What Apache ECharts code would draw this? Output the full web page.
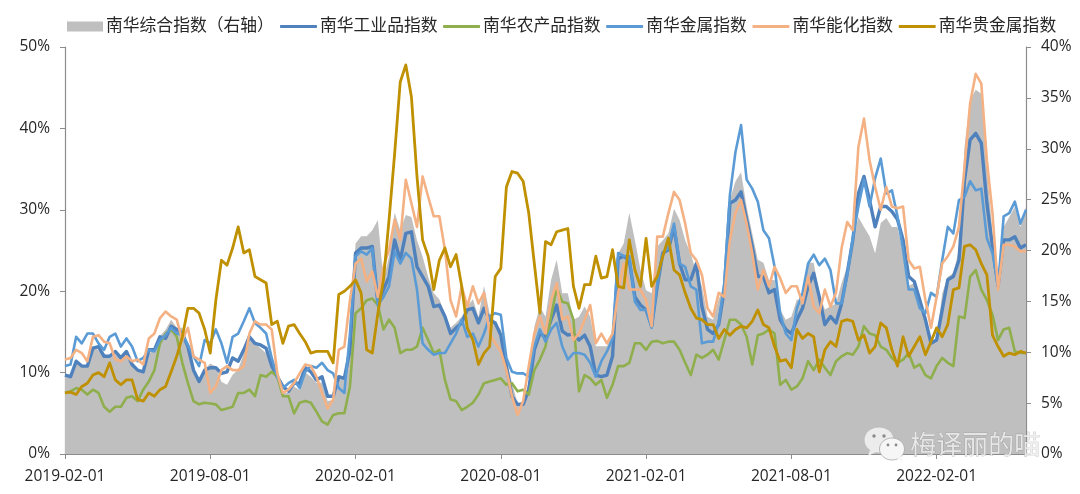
<!DOCTYPE html>
<html><head><meta charset="utf-8">
<style>html,body{margin:0;padding:0;background:#fff}#c{width:1080px;height:494px}</style>
<script src="https://cdn.jsdelivr.net/npm/echarts@6/dist/echarts.min.js"></script>
</head><body><div id="c"></div>
<script>
const tickLabels = ['2019-02-01','2019-08-01','2020-02-01','2020-08-01','2021-02-01','2021-08-01','2022-02-01'];
const composite = [7.6,7.8,9.1,8.6,8.8,10.6,10.2,9.9,9.4,9.8,9.4,9.9,8.8,8.3,8.1,9.9,10.2,11.6,12.2,13.2,12.4,12.4,10.6,8.3,7.0,8.3,8.9,8.6,7.1,6.8,7.8,8.3,9.9,11.2,10.9,10.4,9.9,8.3,7.3,6.0,6.0,6.6,6.3,8.0,7.6,7.0,7.0,5.2,5.3,7.6,7.5,11.9,
20.7,21.4,21.4,22.0,23.0,17.1,19.4,23.7,22.0,23.5,23.3,21.0,19.4,17.4,15.8,15.2,13.8,12.4,12.9,13.5,14.5,15.2,13.5,16.5,13.8,12.9,12.2,9.3,7.0,5.0,5.2,7.0,12.5,14.5,13.5,17.1,19.1,15.8,15.8,13.2,13.5,14.5,13.5,10.6,10.6,10.6,11.9,19.7,20.7,23.7,21.0,18.1,16.1,15.8,20.4,21.0,21.7,24.1,23.0,21.0,19.7,17.8,
16.5,13.5,13.2,15.2,16.5,25.0,26.8,27.7,24.3,21.7,19.1,18.8,17.1,17.1,14.2,13.2,13.5,15.2,14.8,18.8,18.8,15.8,14.2,14.5,14.8,16.8,18.4,21.0,23.3,22.3,21.4,19.7,22.7,23.2,22.3,22.3,19.7,16.5,16.8,15.2,13.5,11.2,11.2,15.8,17.4,17.8,20.1,30.2,34.8,35.8,35.4,28.2,21.7,16.5,22.3,23.3,24.3,22.3,24.3];
const industrial = [9.7,9.5,11.4,10.8,10.8,13.0,13.2,12.0,12.0,12.6,11.8,12.6,11.0,10.3,10.1,12.8,12.8,14.4,14.2,15.7,15.3,14.8,13.2,10.3,8.9,10.3,10.6,10.6,9.9,10.1,11.8,11.4,12.8,14.4,13.6,13.4,13.0,10.8,9.5,8.3,7.7,8.7,8.7,10.6,10.1,9.1,9.5,7.1,7.1,9.5,9.3,12.8,
24.7,25.3,25.3,25.5,18.5,20.2,21.8,26.3,23.8,27.1,27.3,23.0,21.8,20.6,18.1,18.3,16.9,14.8,15.5,16.1,17.7,17.9,16.1,17.9,16.5,16.1,14.6,10.8,7.1,6.1,6.1,7.9,12.8,14.8,14.4,16.5,18.3,15.1,14.6,14.8,14.0,14.6,13.2,9.7,9.5,9.7,12.0,24.0,24.3,23.8,19.3,18.3,17.7,15.7,20.6,24.7,25.1,27.9,23.4,21.4,21.4,23.4,
18.1,15.3,14.8,15.9,20.2,30.8,31.2,32.2,28.8,25.5,21.8,21.8,19.8,20.2,16.5,15.3,14.8,16.5,17.9,20.6,22.2,19.3,15.9,16.9,16.1,18.5,22.2,26.3,32.0,34.1,31.2,27.9,30.4,30.4,29.8,28.8,26.3,21.8,21.2,18.9,16.5,13.6,14.0,17.7,21.4,21.8,23.8,33.7,38.6,39.4,38.2,30.8,25.5,20.6,26.3,26.3,26.7,25.3,25.7];
const agri = [7.5,7.7,8.1,7.9,7.3,7.9,7.5,5.8,5.2,5.8,5.8,6.9,7.1,6.5,7.9,8.9,10.3,13.6,14.8,15.3,14.4,11.2,8.7,6.5,6.1,6.3,6.2,6.1,5.4,5.6,5.8,7.5,7.5,7.9,7.1,9.7,9.5,10.1,9.5,7.1,7.1,5.0,6.3,6.5,6.3,5.2,4.0,3.6,4.8,5.0,5.0,8.3,
17.3,17.9,18.9,19.1,18.3,15.3,16.5,15.5,12.4,12.8,12.8,13.2,15.5,14.0,12.4,12.8,9.1,6.7,6.5,5.4,5.8,6.3,7.3,8.7,8.9,9.1,9.3,8.5,8.7,7.7,7.9,7.3,10.3,11.6,13.2,16.9,20.4,18.7,18.5,16.5,7.7,9.7,9.3,8.5,9.1,6.9,8.5,10.8,10.8,11.2,13.6,13.6,12.8,13.8,13.9,13.6,13.8,13.8,12.8,11.2,9.7,12.2,
11.8,12.2,12.8,11.6,14.0,16.5,16.5,15.9,14.4,11.0,14.6,14.8,15.3,14.8,8.5,9.1,7.9,8.3,9.3,11.4,10.3,11.6,10.6,9.7,11.4,12.0,12.4,12.2,13.2,15.7,14.8,14.6,13.2,12.8,11.8,11.2,11.6,12.4,10.6,11.0,9.7,9.3,10.8,11.8,11.2,10.8,16.9,16.7,21.8,22.6,20.2,18.9,17.1,14.0,15.3,15.5,12.6,12.4,12.4];
const metal = [10.8,11.0,14.4,13.6,14.8,14.8,13.6,12.8,14.4,14.8,13.2,14.2,13.2,11.4,11.8,12.8,12.6,14.0,14.6,15.5,14.8,14.6,13.4,12.0,10.8,14.0,13.6,15.3,13.6,11.2,14.4,14.8,16.3,17.9,16.1,15.5,14.8,11.8,9.5,8.1,8.7,9.1,8.1,10.1,10.8,10.6,11.2,10.3,9.9,8.1,7.5,14.8,
24.3,24.9,24.5,25.3,18.3,19.3,20.6,24.9,23.4,24.7,24.0,20.2,13.6,12.8,12.2,12.4,12.4,13.6,14.8,16.5,14.4,14.8,13.2,14.8,16.9,17.3,17.1,11.8,10.1,9.9,9.9,9.5,13.2,15.3,13.8,15.3,16.1,13.2,11.6,12.4,12.4,12.2,11.2,9.5,11.4,12.6,14.2,24.7,24.3,24.3,18.7,17.7,17.7,15.5,21.0,24.7,25.3,28.3,23.4,23.0,20.6,20.2,
13.6,13.8,13.8,16.1,21.0,31.8,37.1,40.4,33.7,32.6,31.0,27.5,26.5,23.0,17.3,14.8,14.0,17.9,19.8,23.4,24.5,23.2,24.0,22.6,18.5,18.5,22.0,26.5,30.4,33.7,30.4,33.9,36.3,32.0,32.4,29.2,25.1,20.2,20.2,17.9,17.3,19.8,19.3,23.8,27.9,27.1,31.2,31.6,33.5,32.4,32.6,26.5,24.7,20.6,29.2,29.6,31.0,28.3,30.0];
const energy = [11.6,11.8,12.8,12.4,11.4,14.4,14.6,13.8,13.6,11.6,11.4,12.0,11.4,11.6,11.0,14.2,14.8,16.7,17.5,16.9,16.5,14.0,15.5,12.0,11.6,11.2,7.5,8.3,10.3,10.8,10.3,10.3,10.8,14.8,16.3,15.9,15.9,15.3,9.9,7.5,7.9,8.7,9.9,11.0,10.8,9.5,7.5,5.6,6.7,12.8,13.2,18.9,
23.4,24.0,21.2,22.4,19.3,23.0,25.1,28.8,26.3,33.7,30.8,27.9,34.1,31.6,29.2,29.2,25.1,18.9,16.9,20.6,18.1,20.6,18.5,19.8,14.8,13.6,12.6,10.3,7.1,4.8,6.5,10.8,14.8,16.9,14.8,18.9,21.0,16.5,16.9,14.0,14.8,16.5,18.3,13.6,14.8,13.6,14.8,19.8,23.4,20.2,20.2,20.2,18.9,15.7,26.7,26.7,29.6,32.2,31.2,28.3,24.7,23.8,
22.0,17.9,16.9,19.8,19.3,26.3,29.6,31.2,28.3,24.7,20.2,22.6,20.6,23.0,21.6,19.8,20.6,20.6,18.5,21.8,18.1,17.3,20.2,18.1,19.8,25.3,28.5,27.5,37.7,41.2,36.1,32.8,30.0,32.8,30.4,30.2,30.4,23.8,22.8,23.0,18.9,15.5,19.3,23.4,24.3,25.5,27.9,35.3,43.1,46.7,45.5,36.1,29.6,20.2,25.7,25.7,25.5,24.9,24.9];
const gold = [7.5,7.6,7.3,8.3,8.7,9.7,10.0,9.5,11.2,9.1,8.5,9.1,9.1,6.7,6.5,7.5,7.1,7.9,8.3,10.1,12.0,14.4,17.9,17.9,17.3,15.3,12.4,18.9,23.8,23.2,25.3,27.9,24.7,25.1,21.8,21.4,21.0,15.9,16.3,13.6,15.7,15.9,14.8,13.8,12.4,12.6,12.6,12.6,11.2,19.6,20.0,20.6,
21.4,19.8,12.8,12.4,17.3,21.4,28.8,36.9,45.7,47.8,43.9,34.1,26.3,24.3,20.2,23.8,25.3,23.0,24.5,20.6,15.5,14.0,11.0,12.4,13.2,21.8,22.8,32.8,34.7,34.5,33.5,29.6,23.4,17.3,26.1,25.7,27.3,27.5,27.7,20.6,17.9,20.8,20.8,24.3,21.6,21.8,25.1,20.6,20.4,26.3,22.6,20.6,26.5,20.6,21.8,24.3,26.5,22.6,22.0,19.8,17.9,16.7,
16.5,15.9,15.9,14.2,15.3,14.6,15.3,15.7,15.5,16.3,17.7,15.9,15.5,13.2,11.4,11.6,10.6,15.3,14.2,14.8,14.4,10.1,12.8,13.8,13.2,16.3,16.5,16.3,14.0,14.6,12.4,13.2,16.1,15.5,12.8,10.8,14.4,12.0,13.2,14.4,12.2,13.8,15.5,14.4,15.9,20.2,20.4,25.5,25.7,25.1,23.4,22.0,14.6,13.2,12.0,12.4,12.2,12.6,12.4];
const names = ['南华综合指数（右轴）','南华工业品指数','南华农产品指数','南华金属指数','南华能化指数','南华贵金属指数'];
const colors = ['#BFBFBF','#4F81BD','#8FAE4C','#5B9BD5','#F4B183','#BF9000'];
const widths = [0,3.4,2.6,2.6,2.6,2.8];
const seriesData = [composite,industrial,agri,metal,energy,gold];
const categories = composite.map((_,i)=> i%26===0 ? tickLabels[i/26] : '');
const font = '"Open Sans","Noto Sans CJK SC",sans-serif';
const axisCol = '#8C8C8C', txt = '#262626';
const chart = echarts.init(document.getElementById('c'),null,{renderer:'canvas'});
const yAxis = (max,interval,left)=>({type:'value',min:0,max,interval,position:left?'left':'right',
  axisLine:{show:true,lineStyle:{color:axisCol,width:1.2}},axisTick:{show:true,length:5,lineStyle:{color:axisCol,width:1}},
  splitLine:{show:false},axisLabel:{formatter:'{value}%',color:txt,fontSize:15.5,fontFamily:font,margin:15,align:left?'right':'left'}});
const legendText = {fontSize:16.8,color:txt,fontFamily:font,padding:[0,0,0,-2]};
chart.setOption({
  animation:false,backgroundColor:'#fff',
  legend:[
    {left:67,top:18,padding:0,itemWidth:36,itemHeight:10,textStyle:legendText,data:[{name:names[0],icon:'rect'}]},
    {left:280,top:18,padding:0,itemWidth:37,itemHeight:3,itemGap:5.6,textStyle:legendText,icon:'roundRect',data:names.slice(1)}
  ],
  grid:{left:65,right:54,top:47,bottom:40},
  xAxis:{type:'category',data:categories,boundaryGap:false,
    axisLine:{lineStyle:{color:axisCol,width:1.2}},
    axisTick:{length:5,interval:(i)=>i%26===0,lineStyle:{color:axisCol}},
    axisLabel:{interval:(i)=>i%26===0,color:txt,fontSize:15.5,fontFamily:font,margin:15}},
  yAxis:[yAxis(50,10,true),yAxis(40,5,false)],
  series:names.map((n,i)=>({name:n,type:'line',yAxisIndex:i===0?1:0,data:seriesData[i],showSymbol:false,symbol:'none',
    lineStyle:{color:colors[i],width:widths[i],join:'round'},itemStyle:{color:colors[i]},
    areaStyle:i===0?{color:colors[0],opacity:1}:undefined,z:i+2})),
  graphic:[
      {type:'ellipse',z:100,shape:{cx:879,cy:440,rx:15,ry:13},style:{fill:'#ECECEC',stroke:'#B8B8B8',lineWidth:0.8}},
      {type:'polygon',z:100,shape:{points:[[870,450],[868,456],[876,452]]},style:{fill:'#ECECEC'}},
      {type:'ellipse',z:101,shape:{cx:892,cy:449,rx:12.5,ry:11},style:{fill:'#F6F6F6',stroke:'#A8A8A8',lineWidth:0.8}},
      {type:'polygon',z:101,shape:{points:[[897,458],[903,463],[901,456]]},style:{fill:'#F6F6F6'}},
      {type:'circle',z:102,shape:{cx:874,cy:436,r:1.7},style:{fill:'#8A8A8A'}},
      {type:'circle',z:102,shape:{cx:884,cy:436,r:1.7},style:{fill:'#8A8A8A'}},
      {type:'circle',z:102,shape:{cx:888,cy:445,r:1.4},style:{fill:'#8A8A8A'}},
      {type:'circle',z:102,shape:{cx:896,cy:445,r:1.4},style:{fill:'#8A8A8A'}},
      {type:'text',z:103,left:910,top:431,style:{text:'梅译丽的喵',font:'26px "Noto Sans CJK SC"',fill:'rgba(238,238,238,0.85)',stroke:'rgba(120,120,120,0.55)',lineWidth:0.6}}
  ]
});
</script></body></html>
